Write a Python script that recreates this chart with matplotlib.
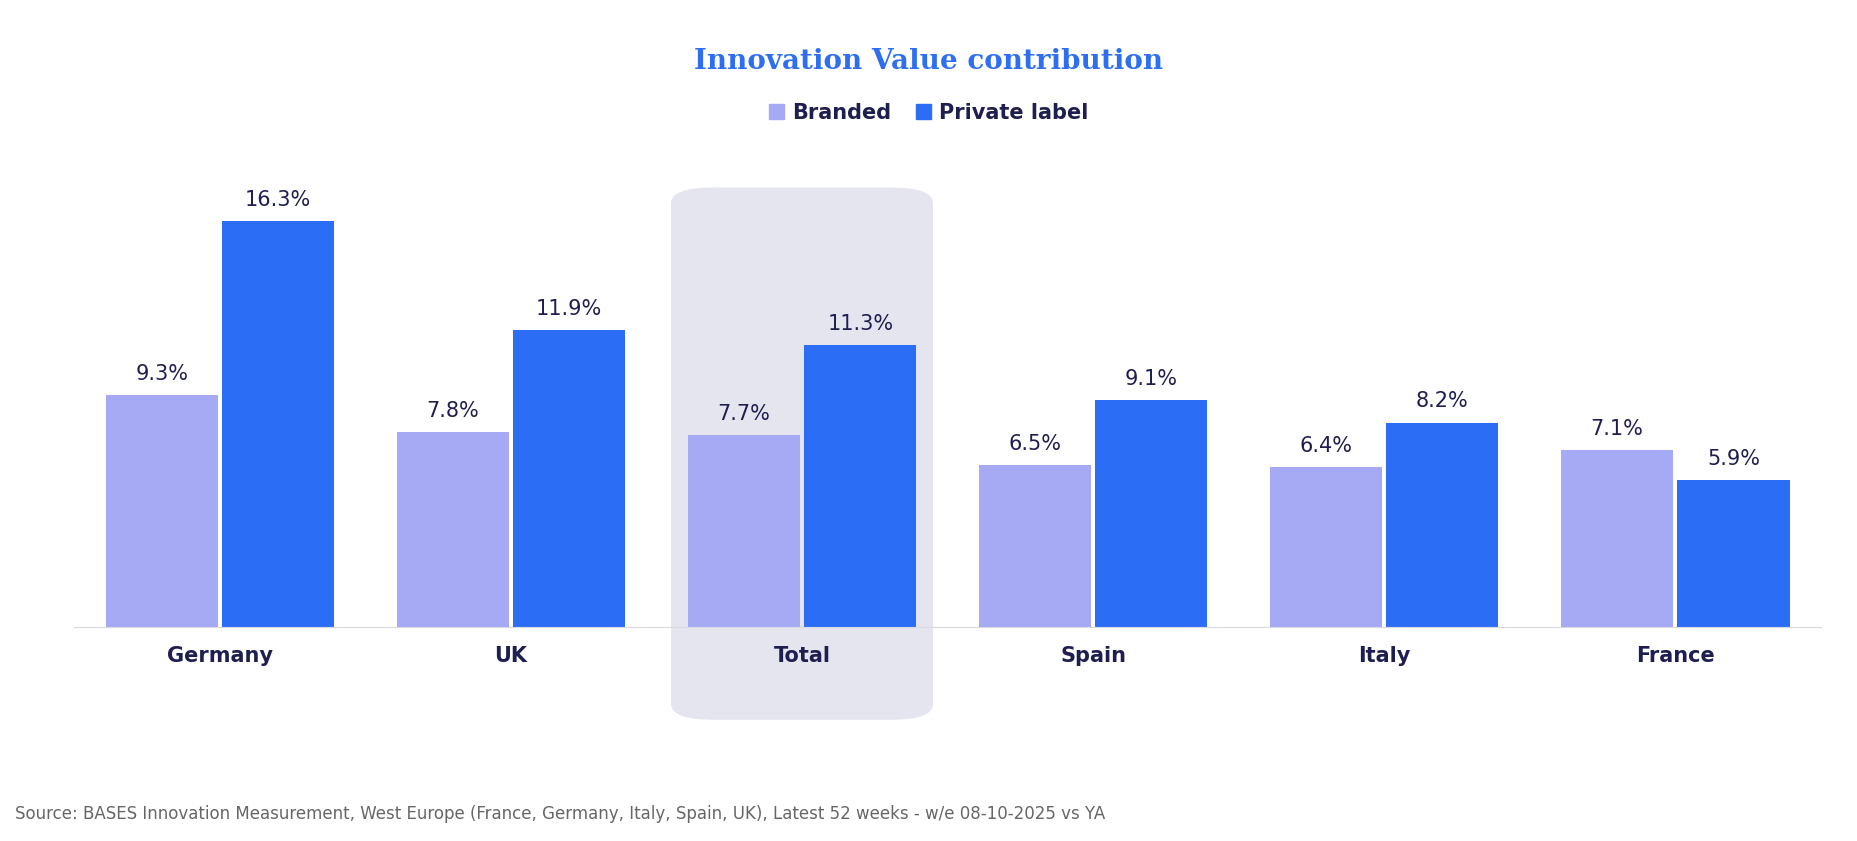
import matplotlib
matplotlib.use("Agg")
import matplotlib.pyplot as plt
import numpy as np
from matplotlib.patches import FancyBboxPatch, Patch

countries = ["Germany", "UK", "Total", "Spain", "Italy", "France"]
branded = [9.3, 7.8, 7.7, 6.5, 6.4, 7.1]
private_label = [16.3, 11.9, 11.3, 9.1, 8.2, 5.9]

c_branded = "#a6aaf4"
c_private = "#2b6ef5"
c_text = "#1e1e50"

fig = plt.figure(figsize=(18.58, 8.41), dpi=100)
ax = fig.add_axes([0.04, 0.255, 0.94, 0.565])

x = np.arange(len(countries))
w = 0.385
off = 0.2
b1 = ax.bar(x - off, branded, w, color=c_branded, zorder=2)
b2 = ax.bar(x + off, private_label, w, color=c_private, zorder=2)

for bars, vals in ((b1, branded), (b2, private_label)):
    for r, v in zip(bars, vals):
        ax.text(r.get_x() + r.get_width() / 2, v + 0.45, f"{v:.1f}%",
                ha="center", va="bottom", fontsize=15, color=c_text)

# highlight box behind Total
i = countries.index("Total")
box = FancyBboxPatch((i - 0.45, -3.75), 0.9, 21.4,
                     boxstyle="round,pad=0,rounding_size=0.15",
                     mutation_aspect=21.0 / 0.9 * 0.9 / 5.0,
                     facecolor="#e5e5f0", edgecolor="none",
                     clip_on=False, zorder=0)
ax.add_patch(box)

ax.set_xlim(-0.5, 5.5)
ax.set_ylim(0, 19.1)
ax.set_xticks(x)
ax.set_xticklabels(countries, fontsize=15, fontweight="bold", color=c_text)
ax.tick_params(axis="x", length=0, pad=14)
ax.set_yticks([])
for s in ["top", "right", "left"]:
    ax.spines[s].set_visible(False)
ax.spines["bottom"].set_color("#d8d8e0")

fig.text(0.5, 0.927, "Innovation Value contribution", ha="center", va="center",
         fontsize=20, fontweight="bold", color="#2e6ff2", family="DejaVu Serif")
fig.legend(handles=[Patch(color=c_branded, label="Branded"),
                    Patch(color=c_private, label="Private label")],
           loc="center", bbox_to_anchor=(0.5, 0.866), ncol=2, frameon=False,
           prop={"size": 15, "weight": "bold"}, handlelength=0.7, handleheight=0.7,
           columnspacing=1.2, handletextpad=0.4, labelcolor=c_text)
fig.text(0.008, 0.032, "Source: BASES Innovation Measurement, West Europe (France, Germany, Italy, Spain, UK), Latest 52 weeks - w/e 08-10-2025 vs YA",
         fontsize=12, color="#666666", ha="left", va="center")

fig.savefig("out.png", dpi=100)
